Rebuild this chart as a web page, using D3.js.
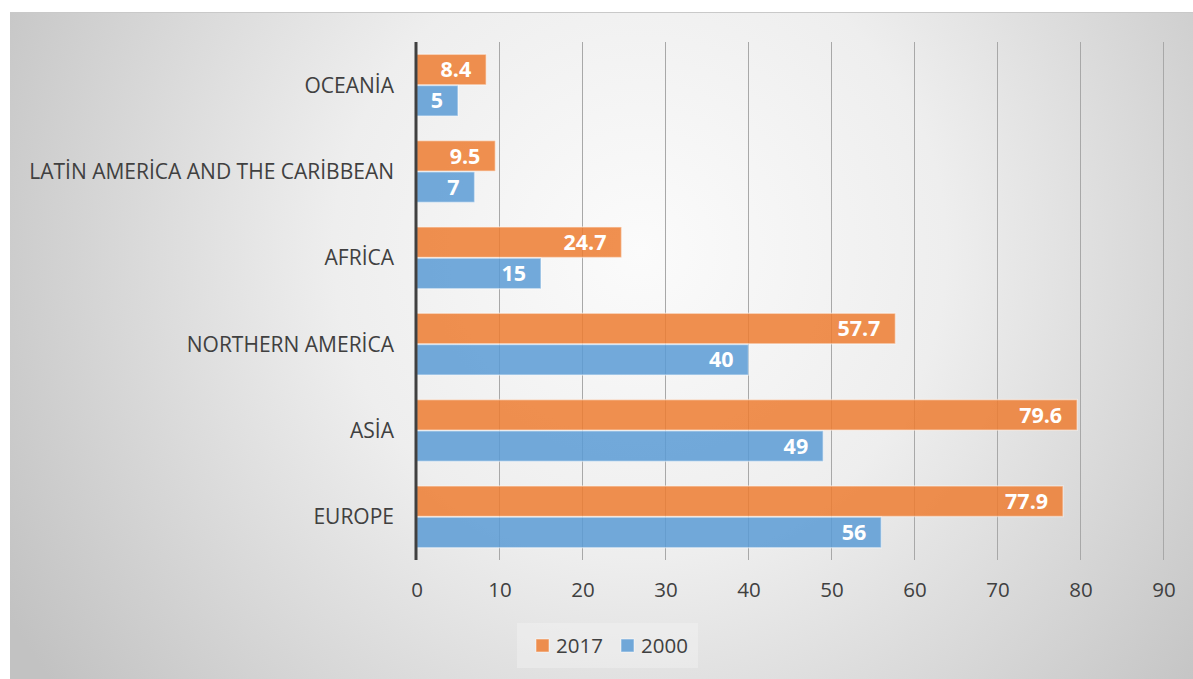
<!DOCTYPE html>
<html>
<head>
<meta charset="utf-8">
<script src="https://cdn.jsdelivr.net/npm/d3@7"></script>
<style>
  html, body { margin: 0; padding: 0; background: #ffffff; }
  svg { display: block; font-family: "Open Sans", "Noto Sans", sans-serif; }
</style>
</head>
<body>
<svg id="chart" width="1193" height="679"></svg>
<script>
// Regions listed top to bottom
const regions = ["OCEANİA", "LATİN AMERİCA AND THE CARİBBEAN", "AFRİCA", "NORTHERN AMERİCA", "ASİA", "EUROPE"];
const values2017 = [8.4, 9.5, 24.7, 57.7, 79.6, 77.9];
const values2000 = [5, 7, 15, 40, 49, 56];
const seriesNames = ["2017", "2000"];
const seriesColors = ["#ED7D31", "#5B9BD5"];
const xTicks = [0, 10, 20, 30, 40, 50, 60, 70, 80, 90];

const svg = d3.select("#chart");
const W = 1193, H = 679;

// Panel background with a soft radial shading
const defs = svg.append("defs");
const grad = defs.append("radialGradient")
  .attr("id", "panelGrad")
  .attr("gradientUnits", "userSpaceOnUse")
  .attr("cx", 640).attr("cy", 250).attr("r", 730);
grad.append("stop").attr("offset", "0%").attr("stop-color", "#fbfbfb");
grad.append("stop").attr("offset", "42%").attr("stop-color", "#eeeeee");
grad.append("stop").attr("offset", "100%").attr("stop-color", "#c2c2c2");

svg.append("rect")
  .attr("x", 10).attr("y", 12)
  .attr("width", W - 10).attr("height", H - 12)
  .attr("fill", "url(#panelGrad)");
svg.append("line")
  .attr("x1", 10).attr("x2", W).attr("y1", 12.5).attr("y2", 12.5)
  .attr("stroke", "#c9c9c9").attr("stroke-width", 1);

// Plot area
const plot = { left: 416.5, right: 1163.5, top: 42, bottom: 560 };

const x = d3.scaleLinear().domain([0, 90]).range([plot.left, plot.right]);
const y = d3.scaleBand().domain(regions).range([plot.top, plot.bottom]).paddingInner(0.27).paddingOuter(0.135);
const ySeries = d3.scaleBand().domain(seriesNames).range([0, y.bandwidth()]).padding(0.02);

// Vertical gridlines
svg.append("g")
  .selectAll("line")
  .data(xTicks.filter(d => d > 0))
  .join("line")
  .attr("x1", d => x(d)).attr("x2", d => x(d))
  .attr("y1", plot.top).attr("y2", plot.bottom)
  .attr("stroke", "#a8a8a8").attr("stroke-width", 1);

// X axis tick labels
const xAxis = d3.axisBottom(x).tickValues(xTicks).tickSize(0).tickPadding(0).tickFormat(d3.format("d"));
const xg = svg.append("g").attr("transform", `translate(0, ${plot.bottom + 22})`).call(xAxis);
xg.select(".domain").remove();
xg.selectAll("text")
  .attr("font-size", 20.5).attr("fill", "#404040")
  .attr("font-family", "'Open Sans', sans-serif")
  .attr("dy", "0.71em");

// Bars
const rows = regions.map((r, i) => ({ region: r, vals: [values2017[i], values2000[i]] }));
const groups = svg.append("g").selectAll("g")
  .data(rows)
  .join("g")
  .attr("transform", d => `translate(0, ${y(d.region)})`);

const bars = groups.selectAll("g.bar")
  .data(d => d.vals.map((v, j) => ({ series: seriesNames[j], value: v, color: seriesColors[j] })))
  .join("g").attr("class", "bar");

bars.append("rect")
  .attr("x", x(0))
  .attr("y", d => ySeries(d.series))
  .attr("width", d => x(d.value) - x(0))
  .attr("height", ySeries.bandwidth())
  .attr("fill", d => d.color)
  .attr("fill-opacity", 0.85)
  .attr("stroke", "#ffffff")
  .attr("stroke-opacity", 0.45)
  .attr("stroke-width", 1.5);

// Value labels at the inside end of each bar
bars.append("text")
  .attr("x", d => x(d.value) - 15)
  .attr("y", d => ySeries(d.series) + ySeries.bandwidth() / 2)
  .attr("dy", "0.36em")
  .attr("text-anchor", "end")
  .attr("font-size", 21.5)
  .attr("font-weight", 700)
  .attr("fill", "#ffffff")
  .text(d => d.value);

// Category axis line
svg.append("line")
  .attr("x1", x(0) - 0.5).attr("x2", x(0) - 0.5)
  .attr("y1", plot.top).attr("y2", plot.bottom)
  .attr("stroke", "#404040").attr("stroke-width", 3);

// Category labels
svg.append("g").selectAll("text")
  .data(regions)
  .join("text")
  .attr("x", 394)
  .attr("y", d => y(d) + y.bandwidth() / 2)
  .attr("dy", "0.36em")
  .attr("text-anchor", "end")
  .attr("font-size", 21)
  .attr("fill", "#404040")
  .text(d => d);

// Legend
const legend = svg.append("g");
legend.append("rect")
  .attr("x", 517).attr("y", 623).attr("width", 181).attr("height", 45)
  .attr("fill", "#f6f6f6").attr("fill-opacity", 0.4);
const legendItems = [
  { name: seriesNames[0], color: seriesColors[0], x: 536 },
  { name: seriesNames[1], color: seriesColors[1], x: 621 }
];
const li = legend.selectAll("g.item").data(legendItems).join("g").attr("class", "item");
li.append("rect")
  .attr("x", d => d.x).attr("y", 639)
  .attr("width", 13).attr("height", 13)
  .attr("fill", d => d.color).attr("fill-opacity", 0.85)
  .attr("stroke", "#ffffff").attr("stroke-opacity", 0.5);
li.append("text")
  .attr("x", d => d.x + 20).attr("y", 645.5)
  .attr("dy", "0.36em")
  .attr("font-size", 20.5)
  .attr("fill", "#404040")
  .text(d => d.name);
</script>
</body>
</html>
